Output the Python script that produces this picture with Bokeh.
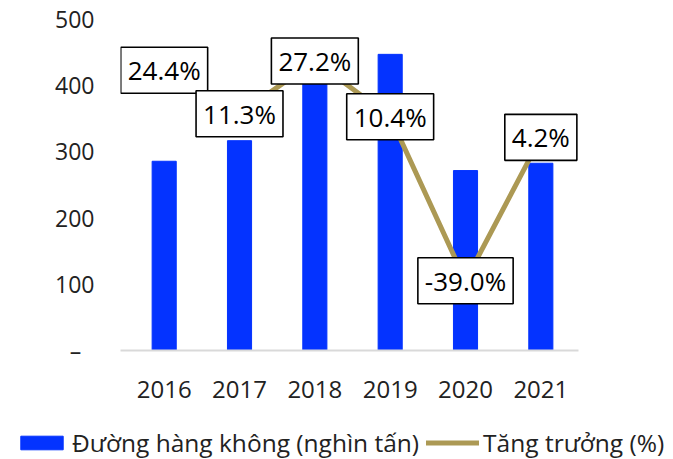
from bokeh.plotting import figure
from bokeh.layouts import column, row
from bokeh.models import (ColumnDataSource, Range1d, FixedTicker, Legend, LegendItem)
from bokeh.core.properties import value
from bokeh.embed import file_html
from bokeh.resources import INLINE

years = ["2016", "2017", "2018", "2019", "2020", "2021"]
cargo = [285, 316, 405, 446, 271, 282]          # nghìn tấn
growth = [24.4, 11.3, 27.2, 10.4, -39.0, 4.2]  # %
growth_labels = ["24.4%", "11.3%", "27.2%", "10.4%", "-39.0%", "4.2%"]
y_ticks = [0, 100, 200, 300, 400, 500]

FONT = "Open Sans"
BLUE = "#0433ff"
GOLD = "#ac9954"

idx = list(range(len(years)))
src = ColumnDataSource(dict(x=idx, cargo=cargo, growth=growth, lab=growth_labels))

p = figure(x_range=Range1d(-0.58, len(years) - 0.5), y_range=Range1d(0, 500),
           width=673, height=425, output_backend="svg", toolbar_location=None,
           min_border_left=120, min_border_right=95, min_border_top=18,
           min_border_bottom=75)
p.extra_y_ranges = {"pct": Range1d(-60, 40)}
p.outline_line_color = None
p.xgrid.grid_line_color = None
p.ygrid.grid_line_color = None

bars = p.vbar(x="x", top="cargo", width=0.32, source=src, color=BLUE)
line = p.line(x="x", y="growth", source=src, y_range_name="pct",
              line_color=GOLD, line_width=5, line_join="round", line_cap="round")

p.text(x="x", y="growth", text="lab", source=src, y_range_name="pct",
       text_align="center", text_baseline="middle",
       text_font=value(FONT), text_font_size="26px", text_color="black",
       background_fill_color="white", border_line_color="black",
       border_line_width=1.6, padding=(7, 5))

p.yaxis.ticker = FixedTicker(ticks=y_ticks)
p.yaxis.major_label_overrides = {0: "\u2013\u2007"}
p.yaxis.axis_line_color = None
p.yaxis.major_tick_line_color = None
p.yaxis.minor_tick_line_color = None
p.yaxis.major_label_standoff = 20
p.yaxis.major_label_text_font = FONT
p.yaxis.major_label_text_font_size = "23px"
p.yaxis.major_label_text_color = "#222222"

p.xaxis.ticker = FixedTicker(ticks=idx)
p.xaxis.major_label_overrides = {i: y for i, y in zip(idx, years)}
p.xaxis.axis_line_color = "#d9d9d9"
p.xaxis.axis_line_width = 2
p.xaxis.major_tick_line_color = None
p.xaxis.minor_tick_line_color = None
p.xaxis.major_label_standoff = 24
p.xaxis.major_label_text_font = FONT
p.xaxis.major_label_text_font_size = "24px"
p.xaxis.major_label_text_color = "#222222"

# legend strip (same data; its y range lies above all values so nothing is drawn in view)
lf = figure(width=673, height=34, x_range=Range1d(-0.5, 5.5), y_range=Range1d(1000, 1001),
            output_backend="svg", toolbar_location=None, min_border=0,
            x_axis_type=None, y_axis_type=None)
lf.outline_line_color = None
lf.grid.visible = False
lb = lf.vbar(x="x", top="cargo", width=0.32, source=src, color=BLUE)
ll = lf.line(x="x", y="growth", source=src, line_color=GOLD, line_width=5, line_cap="round")

legend = Legend(items=[LegendItem(label="Đường hàng không (nghìn tấn)", renderers=[lb]),
                       LegendItem(label="Tăng trưởng (%)", renderers=[ll])],
                orientation="horizontal", location=(15, 0),
                label_text_font=FONT, label_text_font_size="24.5px",
                label_text_color="#222222",
                glyph_width=53, glyph_height=17, label_standoff=4, spacing=7,
                padding=0, margin=0, border_line_color=None,
                background_fill_alpha=0)
lf.add_layout(legend, "center")

layout = column(p, row(lf, spacing=0), spacing=0)
open("out.html", "w").write(file_html(layout, INLINE))
